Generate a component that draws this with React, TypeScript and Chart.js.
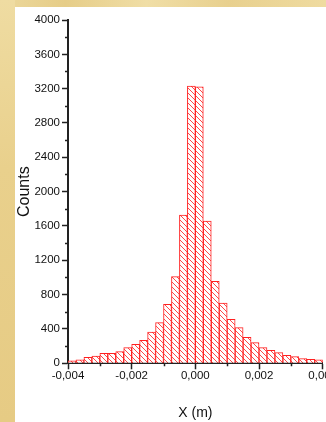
import React, { useEffect, useRef } from "react";
import { Chart, registerables } from "chart.js";

Chart.register(...registerables);

const binStart = -0.004;
const binWidth = 0.00025;
const counts = [
  30, 40, 70, 85, 117, 117, 136, 182, 221, 268, 365, 474, 687, 1010, 1728, 3231,
  3220, 1658, 955, 703, 513, 416, 303, 241, 182, 151, 124, 93, 78, 54, 47, 39,
];
const yTitle = "Counts";
const xTitle = "X (m)";

function makeHatch(): CanvasPattern | string {
  const c = document.createElement("canvas");
  const s = 5;
  c.width = s;
  c.height = s;
  const g = c.getContext("2d");
  if (!g) return "rgba(255,0,0,0.3)";
  g.fillStyle = "#ffffff";
  g.fillRect(0, 0, s, s);
  g.strokeStyle = "rgba(255,40,40,0.85)";
  g.lineWidth = 1;
  g.beginPath();
  g.moveTo(-1, -1);
  g.lineTo(s + 1, s + 1);
  g.moveTo(-1, s - 1);
  g.lineTo(1, s + 1);
  g.moveTo(s - 1, -1);
  g.lineTo(s + 1, 1);
  g.stroke();
  return g.createPattern(c, "repeat") || "rgba(255,0,0,0.3)";
}

const minorTicks = {
  id: "minorTicks",
  afterDraw(chart: any) {
    const ctx = chart.ctx;
    const xs = chart.scales.x;
    const ys = chart.scales.y;
    const area = chart.chartArea;
    ctx.save();
    ctx.strokeStyle = "#222";
    ctx.lineWidth = 1.5;
    ctx.beginPath();
    for (let v = 200; v < 4000; v += 400) {
      const py = Math.round(ys.getPixelForValue(v)) + 0.5;
      ctx.moveTo(area.left - 3, py);
      ctx.lineTo(area.left, py);
    }
    for (let k = -3; k <= 3; k += 2) {
      const px = Math.round(xs.getPixelForValue(k / 1000)) + 0.5;
      ctx.moveTo(px, area.bottom);
      ctx.lineTo(px, area.bottom + 3);
    }
    ctx.stroke();
    ctx.restore();
  },
};

export default function App() {
  const ref = useRef<HTMLCanvasElement | null>(null);
  useEffect(() => {
    if (!ref.current) return;
    const data = counts.map((c, i) => ({ x: binStart + binWidth * (i + 0.5), y: c }));
    const chart = new Chart(ref.current, {
      type: "bar",
      data: {
        datasets: [
          {
            data: data as any,
            backgroundColor: makeHatch() as any,
            borderColor: "#ff2020",
            borderWidth: 1,
            barPercentage: 1,
            categoryPercentage: 1,
          },
        ],
      },
      plugins: [minorTicks],
      options: {
        animation: false,
        responsive: false,
        maintainAspectRatio: false,
        layout: { padding: { left: 0, right: 3.3, top: 20, bottom: 0 } },
        plugins: { legend: { display: false }, tooltip: { enabled: false } },
        scales: {
          x: {
            type: "linear",
            offset: false,
            min: -0.004,
            max: 0.004,
            afterBuildTicks: (s: any) => {
              s.ticks = [-4, -2, 0, 2, 4].map((k) => ({ value: k / 1000 }));
            },
            ticks: {
              autoSkip: false,
              maxRotation: 0,
              padding: 0,
              color: "#111",
              font: { family: "Liberation Sans, Arial, sans-serif", size: 11.5 },
              callback: (v: any) => {
                const n = Math.round(Number(v) * 1000);
                const s = (Math.abs(n) / 1000).toFixed(3).replace(".", ",");
                return n < 0 ? "-" + s : s;
              },
            },
            grid: {
              offset: false,
              drawOnChartArea: false,
              drawTicks: true,
              tickLength: 6,
              tickColor: "#222",
              tickWidth: 1.5,
            },
            border: { display: true, color: "#222", width: 2 },
            title: {
              display: true,
              text: xTitle,
              color: "#111",
              font: { family: "Liberation Sans, Arial, sans-serif", size: 14 },
              padding: { top: 2.6, bottom: 0 },
            },
            afterFit: (s: any) => {
              s.height = 58.7;
              s.paddingLeft = 0;
              s.paddingRight = 0;
            },
          },
          y: {
            type: "linear",
            min: 0,
            max: 4000,
            afterBuildTicks: (s: any) => {
              const t = [];
              for (let v = 0; v <= 4000; v += 400) t.push({ value: v });
              s.ticks = t;
            },
            ticks: {
              autoSkip: false,
              padding: 2,
              color: "#111",
              font: { family: "Liberation Sans, Arial, sans-serif", size: 11.5 },
              callback: (v: any) => String(Math.round(Number(v))),
            },
            grid: {
              drawOnChartArea: false,
              drawTicks: true,
              tickLength: 6,
              tickColor: "#222",
              tickWidth: 1.5,
            },
            border: { display: true, color: "#222", width: 2 },
            title: {
              display: true,
              text: yTitle,
              color: "#111",
              font: { family: "Liberation Sans, Arial, sans-serif", size: 16 },
              padding: { top: 15.4, bottom: 0 },
            },
            afterFit: (s: any) => {
              s.width = 68;
              s.paddingTop = 0;
              s.paddingBottom = 0;
            },
          },
        },
      },
    });
    return () => chart.destroy();
  }, []);

  return (
    <div
      style={{
        position: "fixed",
        left: 0,
        top: 0,
        width: 326,
        height: 422,
        overflow: "hidden",
        background:
          "linear-gradient(90deg, #ecd89c 0%, #e6cd88 20%, #f0dea6 45%, #e8d08e 70%, #efdba0 100%)",
      }}
    >
      <div
        style={{
          position: "absolute",
          left: 0,
          top: 0,
          width: 15,
          height: 422,
          background: "linear-gradient(180deg, #efdca2 0%, #e9d08c 40%, #e6cb84 100%)",
        }}
      />
      <div
        style={{
          position: "absolute",
          left: 15,
          top: 7,
          width: 311,
          height: 415,
          background: "#ffffff",
        }}
      />
      <canvas
        ref={ref}
        width={326}
        height={422}
        style={{ position: "absolute", left: 0, top: 0, width: 326, height: 422 }}
      />
    </div>
  );
}
